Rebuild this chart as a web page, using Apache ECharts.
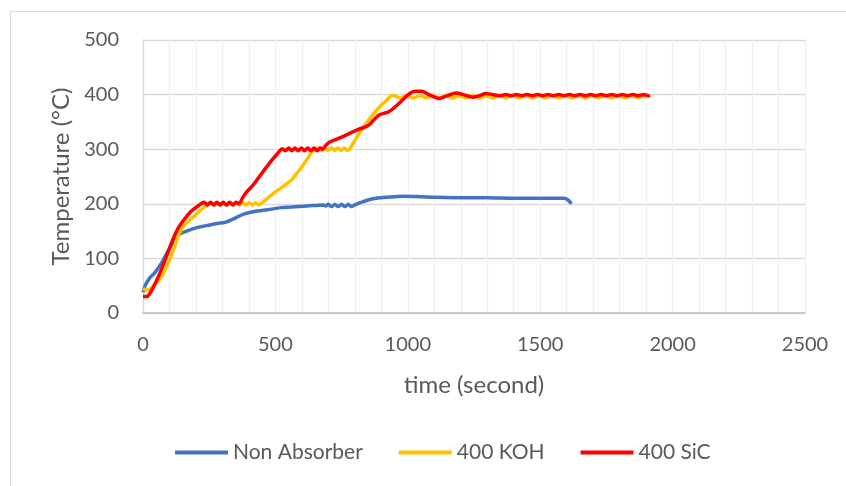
<!DOCTYPE html>
<html>
<head>
<meta charset="utf-8">
<script src="https://cdn.jsdelivr.net/npm/echarts@6/dist/echarts.min.js"></script>
<style>
html,body{margin:0;padding:0;background:#fff;}
#chart{width:846px;height:486px;}
</style>
</head>
<body>
<div id="chart"></div>
<script>
// Series names
var seriesNames = ['Non Absorber', '400 KOH', '400 SiC'];

// Non Absorber: time (s) and temperature (°C)
var nonAbsTime = [0,10,25,45,68,100,125,140,165,200,240,280,310,340,380,420,470,520,560,620,680,
  690,700,712,725,737,750,762,775,787,800,820,850,880,920,980,1050,1100,1200,1300,1400,1500,1590,1605,1618];
var nonAbsTemp = [38,52,64,74,90,118,138,145,150,156,160,164,166,172,181,186,189,193,194,196,198,
  196,199,195,199,195,199,195,199,195,198,202,207,210,212,214,213,212,211,211,210,210,210,207,200];

// 400 KOH
var kohTime = [0,15,30,50,74,100,120,137,156,180,200,222,245,
  257,269,281,293,305,317,329,341,353,365,377,389,401,413,425,437,445,
  470,500,530,562,580,600,620,640,652,
  664,676,688,700,712,724,736,748,760,772,780,
  800,825,850,880,910,945,
  970,995,1020,1045,1070,1095,1120,1145,1170,1195,1220,1245,1270,1295,1320,1345,1370,1395,1420,1445,
  1470,1495,1520,1545,1570,1595,1620,1645,1670,1695,1720,1745,1770,1795,1820,1845,1870,1895,1903];
var kohTemp = [45,42,45,55,70,97,122,146,161,172,180,190,199,
  202,198,202,198,202,198,202,198,202,198,202,198,202,198,202,198,200,
  210,222,232,244,255,268,282,296,300,
  302,298,302,298,302,298,302,298,302,298,300,
  316,335,352,370,385,399,
  394,398,394,398,394,398,394,398,394,398,394,398,394,398,394,398,394,398,394,398,
  394,398,394,398,394,398,394,398,394,398,394,398,394,398,394,398,394,398,397];

// 400 SiC
var sicTime = [0,15,25,40,56,74,95,112,130,149,165,181,205,231,
  243,255,267,279,291,303,315,327,339,351,362,
  375,387,420,449,480,510,526,
  538,550,562,574,586,598,610,622,634,646,658,670,678,
  690,705,730,750,780,812,840,855,870,893,912,930,960,986,1010,1030,1052,1080,1118,1150,1182,1210,1245,1270,1295,1320,1350,
  1370,1390,1410,1430,1450,1470,1490,1510,1530,1550,1570,1590,1610,1630,1650,1670,1690,1710,1730,1750,1770,1790,1810,1830,1850,1870,1890,1910,1914];
var sicTemp = [30,30,35,48,64,85,112,134,153,167,177,186,195,203,
  198,203,198,203,198,203,198,203,198,203,200,
  210,219,237,256,276,293,301,
  297,302,297,302,297,302,297,302,297,302,297,302,300,
  307,313,318,322,329,336,341,345,353,363,366,369,381,393,403,406,406,400,393,398,403,400,395,398,402,400,398,
  400,398,400,398,400,398,400,398,400,398,400,398,400,398,400,398,400,398,400,398,400,398,400,398,400,398,400,398,399];

// Axis ticks
var xMin = 0, xMax = 2500, xStep = 500;
var yMin = 0, yMax = 500, yStep = 100;

function zip(a, b) { return a.map(function (v, i) { return [v, b[i]]; }); }

var FONT = 'Lato, "Open Sans", sans-serif';
var TXT = '#595959';
var colors = ['#4472C4', '#FFC000', '#FF0000'];

var chart = echarts.init(document.getElementById('chart'));
chart.setOption({
  animation: false,
  backgroundColor: '#ffffff',
  graphic: [{
    type: 'rect', silent: true, z: -10,
    shape: { x: 10.5, y: 11.5, width: 900, height: 600 },
    style: { fill: 'none', stroke: '#d9d9d9', lineWidth: 1 }
  }],
  grid: { left: 143, top: 40, width: 662, height: 273, containLabel: false },
  legend: {
    data: seriesNames,
    left: 175, top: 442, padding: 0,
    itemWidth: 53, itemHeight: 4, itemGap: 36,
    icon: 'rect',
    textStyle: { fontFamily: FONT, fontSize: 21, color: TXT }
  },
  xAxis: {
    type: 'value', min: xMin, max: xMax, interval: xStep,
    name: 'time (second)', nameLocation: 'middle', nameGap: 60,
    nameTextStyle: { fontFamily: FONT, fontSize: 24, color: TXT },
    axisLine: { show: true, lineStyle: { color: '#bfbfbf', width: 1.5 } },
    axisTick: { show: false },
    axisLabel: { fontFamily: FONT, fontSize: 20, color: TXT, margin: 22,
      formatter: function (v) { return String(v); } },
    splitLine: { show: true, lineStyle: { color: '#efefef', width: 1.3 } },
    minorTick: { show: false, splitNumber: 5 },
    minorSplitLine: { show: true, lineStyle: { color: '#efefef', width: 1.3 } }
  },
  yAxis: {
    type: 'value', min: yMin, max: yMax, interval: yStep,
    name: 'Temperature (°C)', nameLocation: 'middle', nameGap: 69,
    nameTextStyle: { fontFamily: FONT, fontSize: 24, color: TXT },
    axisLine: { show: true, lineStyle: { color: '#d9d9d9', width: 1.3 } },
    axisTick: { show: false },
    axisLabel: { fontFamily: FONT, fontSize: 20, color: TXT, margin: 24 },
    splitLine: { show: true, lineStyle: { color: '#d9d9d9', width: 1.3 } }
  },
  series: [
    { name: seriesNames[0], type: 'line', data: zip(nonAbsTime, nonAbsTemp), showSymbol: false, smooth: 0.3,
      lineStyle: { color: colors[0], width: 3.5 }, itemStyle: { color: colors[0] } },
    { name: seriesNames[1], type: 'line', data: zip(kohTime, kohTemp), showSymbol: false, smooth: 0.3,
      lineStyle: { color: colors[1], width: 3.5 }, itemStyle: { color: colors[1] } },
    { name: seriesNames[2], type: 'line', data: zip(sicTime, sicTemp), showSymbol: false, smooth: 0.3,
      lineStyle: { color: colors[2], width: 3.5 }, itemStyle: { color: colors[2] } }
  ]
});
</script>
</body>
</html>
